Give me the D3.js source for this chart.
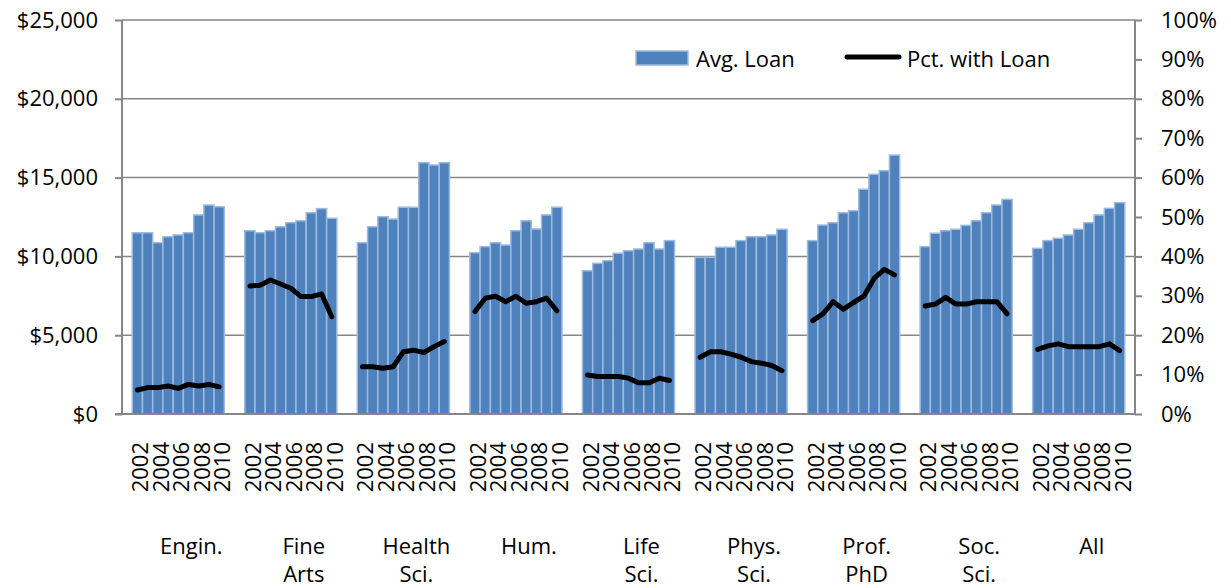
<!DOCTYPE html>
<html>
<head>
<meta charset="utf-8">
<script src="https://cdn.jsdelivr.net/npm/d3@7"></script>
<style>
  body { margin: 0; background: #fff; }
  text { font-family: "Open Sans", "Noto Sans", sans-serif; fill: #000; }
</style>
</head>
<body>
<div id="chart"></div>
<script>
const categories = ["Engin.", "Fine\nArts", "Health\nSci.", "Hum.", "Life\nSci.", "Phys.\nSci.", "Prof.\nPhD", "Soc.\nSci.", "All"];
const years = ["2002", "2003", "2004", "2005", "2006", "2007", "2008", "2009", "2010"];

// average loan ($) per category, 2002-2010
const avgEngin   = [11500, 11500, 10870, 11250, 11360, 11500, 12630, 13260, 13150];
const avgFine    = [11630, 11500, 11630, 11880, 12140, 12260, 12770, 13030, 12420];
const avgHealth  = [10870, 11880, 12520, 12370, 13120, 13120, 15950, 15800, 15950];
const avgHum     = [10240, 10620, 10870, 10720, 11630, 12260, 11740, 12630, 13120];
const avgLife    = [9090, 9560, 9730, 10200, 10360, 10470, 10870, 10470, 11000];
const avgPhys    = [9940, 9940, 10580, 10580, 11000, 11250, 11250, 11360, 11720];
const avgProf    = [11000, 11990, 12140, 12770, 12900, 14260, 15210, 15440, 16430];
const avgSoc     = [10620, 11470, 11630, 11720, 11970, 12260, 12770, 13260, 13620];
const avgAll     = [10510, 11000, 11150, 11360, 11720, 12140, 12630, 13050, 13410];

// share of students with a loan
const pctEngin   = [0.061, 0.067, 0.067, 0.071, 0.065, 0.075, 0.071, 0.075, 0.069];
const pctFine    = [0.325, 0.327, 0.340, 0.330, 0.319, 0.298, 0.298, 0.305, 0.247];
const pctHealth  = [0.120, 0.120, 0.116, 0.120, 0.158, 0.162, 0.156, 0.171, 0.184];
const pctHum     = [0.260, 0.294, 0.299, 0.285, 0.299, 0.281, 0.285, 0.294, 0.262];
const pctLife    = [0.099, 0.095, 0.095, 0.095, 0.091, 0.079, 0.079, 0.091, 0.085];
const pctPhys    = [0.144, 0.158, 0.158, 0.152, 0.144, 0.133, 0.129, 0.123, 0.110];
const pctProf    = [0.237, 0.254, 0.285, 0.266, 0.283, 0.299, 0.344, 0.367, 0.353];
const pctSoc     = [0.274, 0.279, 0.296, 0.279, 0.279, 0.285, 0.285, 0.285, 0.254];
const pctAll     = [0.164, 0.173, 0.178, 0.171, 0.171, 0.171, 0.171, 0.178, 0.161];

const avgLoan = [avgEngin, avgFine, avgHealth, avgHum, avgLife, avgPhys, avgProf, avgSoc, avgAll];
const pctLoan = [pctEngin, pctFine, pctHealth, pctHum, pctLife, pctPhys, pctProf, pctSoc, pctAll];

const width = 1231, height = 588;
const plot = {left: 122, right: 1135, top: 20, bottom: 414};
const gray = "#868686";
const barBlue = "#4f81bd";
const barEdge = "#9dbbe0";

let svg = d3.select("#chart")
    .append("svg")
    .attr("width", width)
    .attr("height", height);

let x0 = d3.scaleBand()
    .domain(categories)
    .range([plot.left, plot.right])
    .padding(0);

let x1 = d3.scaleBand()
    .domain(years)
    .range([0, x0.bandwidth()])
    .paddingInner(0)
    .paddingOuter(1);

let y = d3.scaleLinear().domain([0, 25000]).range([plot.bottom, plot.top]);
let y2 = d3.scaleLinear().domain([0, 1]).range([plot.bottom, plot.top]);

// gridlines
svg.append("g")
    .selectAll("line")
    .data(d3.range(5000, 25001, 5000))
    .enter().append("line")
    .attr("x1", plot.left)
    .attr("x2", plot.right)
    .attr("y1", d => y(d))
    .attr("y2", d => y(d))
    .attr("stroke", gray)
    .attr("stroke-width", 1.5);

// bars
let groups = svg.append("g")
    .selectAll("g")
    .data(categories)
    .enter().append("g")
    .attr("transform", d => `translate(${x0(d)},0)`);

groups.selectAll("rect")
    .data((d, i) => avgLoan[i].map((v, j) => ({year: years[j], value: v})))
    .enter().append("rect")
    .attr("x", d => x1(d.year))
    .attr("y", d => y(d.value))
    .attr("width", x1.bandwidth())
    .attr("height", d => y(0) - y(d.value))
    .attr("fill", barBlue)
    .attr("stroke", barEdge)
    .attr("stroke-width", 1.5);

// pct lines
let line = d3.line()
    .x(d => x1(d.year) + x1.bandwidth() / 2)
    .y(d => y2(d.value));

groups.append("path")
    .datum((d, i) => pctLoan[i].map((v, j) => ({year: years[j], value: v})))
    .attr("d", line)
    .attr("fill", "none")
    .attr("stroke", "#000")
    .attr("stroke-width", 5)
    .attr("stroke-linejoin", "round")
    .attr("stroke-linecap", "round");

// axes
let leftAxis = svg.append("g")
    .attr("transform", `translate(${plot.left},0)`)
    .call(d3.axisLeft(y)
        .tickValues(d3.range(0, 25001, 5000))
        .tickSize(7)
        .tickPadding(17)
        .tickFormat(d => "$" + d3.format(",")(d)));

let rightAxis = svg.append("g")
    .attr("transform", `translate(${plot.right},0)`)
    .call(d3.axisRight(y2)
        .tickValues(d3.range(0, 11).map(d => d / 10))
        .tickSize(7)
        .tickPadding(19)
        .tickFormat(d3.format(".0%")));

[leftAxis, rightAxis].forEach(a => {
    a.selectAll(".domain").attr("stroke", gray).attr("stroke-width", 2)
        .attr("d", `M0,${plot.top}V${plot.bottom}`);
    a.selectAll(".tick line").attr("stroke", gray).attr("stroke-width", 2);
    a.selectAll(".tick text").style("font-size", "22px");
});

svg.append("line")
    .attr("x1", plot.left - 7)
    .attr("x2", plot.right)
    .attr("y1", plot.bottom)
    .attr("y2", plot.bottom)
    .attr("stroke", gray)
    .attr("stroke-width", 2);

// year labels (every other year)
groups.selectAll("text.year")
    .data(years.filter((d, i) => i % 2 === 0))
    .enter().append("text")
    .attr("class", "year")
    .attr("transform", d => `translate(${x1(d) + x1.bandwidth() / 2 + 2},442) rotate(-90)`)
    .attr("text-anchor", "end")
    .attr("dominant-baseline", "central")
    .style("font-size", "22px")
    .text(d => d);

// category labels
let cat = groups.append("text")
    .attr("text-anchor", "middle")
    .style("font-size", "22px");

cat.selectAll("tspan")
    .data(d => d.split("\n"))
    .enter().append("tspan")
    .attr("x", x0.bandwidth() / 2 + 13)
    .attr("y", (d, i) => 554 + i * 28)
    .text(d => d);

// legend
let legend = svg.append("g");
legend.append("rect")
    .attr("x", 636).attr("y", 51)
    .attr("width", 52).attr("height", 14)
    .attr("fill", barBlue)
    .attr("stroke", barEdge)
    .attr("stroke-width", 1.5);
legend.append("text")
    .attr("x", 696).attr("y", 58)
    .attr("dominant-baseline", "central")
    .style("font-size", "22px")
    .text("Avg. Loan");
legend.append("line")
    .attr("x1", 847).attr("x2", 899)
    .attr("y1", 57).attr("y2", 57)
    .attr("stroke", "#000")
    .attr("stroke-width", 5)
    .attr("stroke-linecap", "round");
legend.append("text")
    .attr("x", 907).attr("y", 58)
    .attr("dominant-baseline", "central")
    .style("font-size", "22px")
    .text("Pct. with Loan");
</script>
</body>
</html>
